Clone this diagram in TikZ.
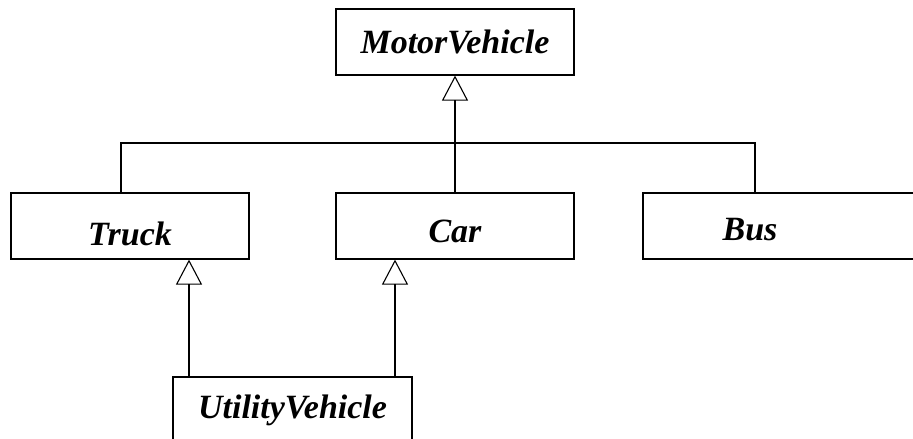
\documentclass[tikz,border=0pt]{standalone}
\usepackage{fontspec}
\setmainfont{Liberation Serif}
\usetikzlibrary{arrows.meta}
\begin{document}
\begin{tikzpicture}[x=1pt, y=-1pt,
    cls/.style={draw, line width=1.2pt, minimum width=238pt, minimum height=66pt,
                inner sep=0pt, font=\fontsize{34}{36}\selectfont\bfseries\itshape},
    inh/.style={line width=1.1pt, -{Triangle[open, length=25pt, width=26pt, line width=1.1pt]}},
    link/.style={line width=1.1pt}]
    \useasboundingbox (0, 0) rectangle (913, 439);
    \clip (0, 0) rectangle (913, 439);

    \node[cls] (motor) at (455, 42) {MotorVehicle};
    \node[cls, text height=38pt, text depth=0pt] (truck) at (130, 226) {Truck};
    \node[cls, text height=32pt, text depth=0pt] (car) at (455, 226) {Car};
    \node[cls, minimum width=277pt] (bus) at (781.5, 226) {};
    \node[font=\fontsize{34}{36}\selectfont\bfseries\itshape] (bustext) at (750, 230) {Bus};
    \node[cls, minimum width=239pt] (util) at (292.5, 410) {UtilityVehicle};

    % shared line into the superclass
    \coordinate (join) at (455, 143);
    \coordinate (truckup) at ([xshift=-9pt]truck.north);
    \coordinate (busup) at ([xshift=-26.5pt]bus.north);
    \draw[link] (truckup) -- (truckup |- join) -- (busup |- join) -- (busup);
    \draw[inh] (car.north) -- (motor.south);

    % UtilityVehicle inherits twice
    \coordinate (utilleft) at ([xshift=-103.5pt]util.north);
    \coordinate (utilright) at ([xshift=102.5pt]util.north);
    \draw[inh] (utilleft) -- (utilleft |- truck.south);
    \draw[inh] (utilright) -- (utilright |- car.south);
\end{tikzpicture}
\end{document}
